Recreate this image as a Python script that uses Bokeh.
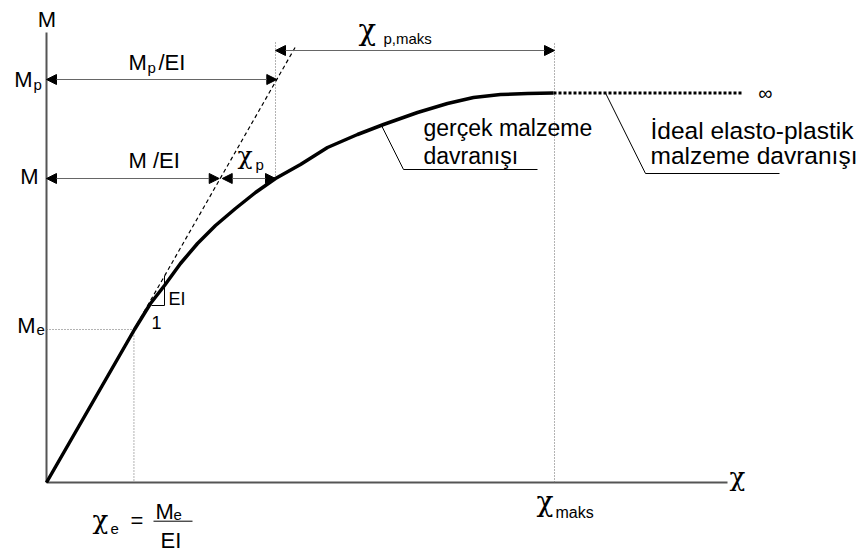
from bokeh.plotting import figure
from bokeh.models import Range1d, Arrow, NormalHead
from bokeh.core.properties import value
from bokeh.embed import file_html
from bokeh.resources import INLINE

# Moment-curvature (M - chi) diagram; one unit = 100 px on both axes
EI = 1.75            # slope of the elastic branch
M_e = 1.53           # elastic limit moment
M_val = 3.04         # an arbitrary moment level M
M_p = 4.03           # plastic moment level (dashed line reference)
M_plateau = 3.895    # plateau of the real material curve
chi_at_M = 2.29      # curvature where the curve reaches M
chi_maks = 5.08      # maximum curvature
chi_ideal_end = 6.96 # end of the ideal elasto-plastic plateau drawn
chi_axis_end = 6.81
M_axis_end = 4.50
M_top_guides = 4.40
M_chi_p_maks = 4.32

# real material behaviour (thick curve)
curve_chi = [0.0, 0.88, 1.04, 1.18, 1.34, 1.51, 1.69, 1.89, 2.09, 2.29,
             2.54, 2.81, 3.11, 3.37, 3.71, 4.01, 4.27, 4.54, 4.81, 5.07]
curve_M = [0.0, 1.53, 1.79, 1.97, 2.19, 2.39, 2.57, 2.74, 2.90, 3.04,
           3.18, 3.35, 3.48, 3.58, 3.70, 3.79, 3.85, 3.88, 3.89, 3.895]

chi_e = M_e / EI
chi_el_M = M_val / EI
chi_el_Mp = M_p / EI

FONT = "Liberation Sans"
CHI_FONT = "DejaVu Serif"

p = figure(width=864, height=552,
           x_range=Range1d(-0.46, 8.18), y_range=Range1d(-0.70, 4.82),
           output_backend="svg", toolbar_location=None, min_border=0,
           x_axis_type=None, y_axis_type=None)
p.outline_line_color = None
p.background_fill_color = "white"
p.border_fill_color = "white"

# axes
p.line([0, 0], [0, M_axis_end], line_color="#555555", line_width=2)
p.line([0, chi_axis_end], [0, 0], line_color="#555555", line_width=2)

# guide lines (dotted)
dot = dict(line_color="#666666", line_width=1, line_dash="1 2")
p.line([0, chi_e], [M_e, M_e], **dot)
p.line([chi_e, chi_e], [M_e, 0], **dot)
p.line([chi_at_M, chi_at_M], [M_val, M_top_guides], **dot)
p.line([chi_maks, chi_maks], [0, M_top_guides], **dot)

# elastic branch extension (dashed)
M_dash_top = 4.37
p.line([0, M_dash_top / EI], [0, M_dash_top], line_color="black",
       line_width=1.2, line_dash="4 3")

# real material curve
p.line(curve_chi, curve_M, line_color="black", line_width=3.5,
       line_join="round")

# ideal elasto-plastic plateau
p.line([curve_chi[-1], chi_ideal_end], [M_plateau, M_plateau],
       line_color="black", line_width=3.2, line_dash="3 2")

# slope triangle
tri_chi = 1.18
tri_low = 1.77
p.line([1.05, tri_chi, tri_chi], [tri_low, tri_low, EI * tri_chi],
       line_color="black", line_width=1)

# leader lines
p.line([3.35, 3.57, 4.91], [3.57, 3.13, 3.13], line_color="black", line_width=1)
p.line([5.59, 5.99, 7.33], [M_plateau, 3.09, 3.09], line_color="black", line_width=1)


def dim_arrow(x0, x1, y):
    head = dict(size=10, fill_color="black", line_color="black", line_width=1)
    p.add_layout(Arrow(x_start=x0, y_start=y, x_end=x1, y_end=y,
                       start=NormalHead(**head), end=NormalHead(**head),
                       line_color="#666666", line_width=1))


dim_arrow(0.0, chi_el_Mp, M_p)
dim_arrow(0.0, chi_el_M - 0.01, M_val)
dim_arrow(chi_el_M + 0.02, chi_at_M, M_val)
dim_arrow(chi_at_M, chi_maks, M_chi_p_maks)


def label(x, y, t, size, align="left", font=FONT):
    # y is the baseline; lift slightly so glyphs sit on it in the SVG output
    p.text(x=[x], y=[y + 0.003 * size], text=[t], text_font=value(font),
           text_font_size=value(f"{size}px"), text_align=align,
           text_baseline="alphabetic", text_color="black")


# axis titles
label(0.005, 4.56, "M", 22, "center")
label(6.83, -0.02, "χ", 26, font=CHI_FONT)

# moment levels on the M axis
label(-0.14, M_p - 0.07, "M", 22, "right")
label(-0.13, M_p - 0.095, "p", 15)
label(-0.08, M_val - 0.05, "M", 22, "right")
label(-0.11, M_e - 0.03, "M", 22, "right")
label(-0.10, M_e - 0.05, "e", 15)

# dimension labels
label(0.82, 4.135, "M", 22)
label(1.01, 4.105, "p", 15)
label(1.12, 4.135, "/EI", 22)
label(0.82, 3.153, "M /EI", 22)
label(1.91, 3.20, "χ", 25, font=CHI_FONT)
label(2.09, 3.14, "p", 15)
label(3.12, 4.44, "χ", 29, font=CHI_FONT)
label(3.37, 4.40, "p,maks", 15)

# slope triangle labels
label(1.22, 1.78, "EI", 18)
label(1.05, 1.55, "1", 18)

# curvature labels below the axis
label(4.90, -0.27, "χ", 28, font=CHI_FONT)
label(5.09, -0.35, "maks", 16)
label(0.46, -0.45, "χ", 26, font=CHI_FONT)
label(0.64, -0.51, "e", 15)
label(0.84, -0.45, "=", 22)
label(1.09, -0.36, "M", 22)
label(1.27, -0.37, "e", 15)
p.line([1.07, 1.46], [-0.387, -0.387], line_color="black", line_width=1)
label(1.14, -0.645, "EI", 22)

# behaviour descriptions
label(3.77, 3.48, "gerçek malzeme", 23)
label(3.77, 3.20, "davranışı", 23)
label(6.04, 3.45, "İdeal elasto-plastik", 24.5)
label(6.04, 3.20, "malzeme davranışı", 24.5)
p.text(x=[7.19], y=[M_plateau], text=["∞"], text_font=value(FONT),
       text_font_size=value("20px"), text_align="center",
       text_baseline="middle", text_color="black")

open("out.html", "w").write(file_html(p, INLINE))
